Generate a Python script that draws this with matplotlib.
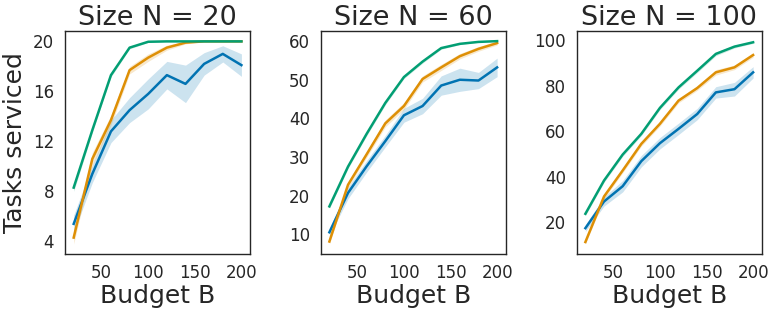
import matplotlib
matplotlib.use("Agg")
import matplotlib.pyplot as plt
import numpy as np

budgets = [20, 40, 60, 80, 100, 120, 140, 160, 180, 200]
sizes = [20, 60, 100]

# N = 20
n20_blue = [5.4, 9.4, 12.8, 14.5, 15.8, 17.3, 16.6, 18.2, 19.0, 18.1]
n20_blue_ci = [0.7, 0.7, 0.9, 1.0, 1.2, 1.1, 1.5, 0.9, 0.65, 0.9]
n20_orange = [4.3, 10.6, 13.7, 17.7, 18.7, 19.5, 19.9, 20.0, 20.0, 20.0]
n20_orange_ci = [0.5, 0.5, 0.4, 0.3, 0.3, 0.2, 0.1, 0.0, 0.0, 0.0]
n20_green = [8.3, 12.9, 17.3, 19.5, 19.97, 20.0, 20.0, 20.0, 20.0, 20.0]
n20_green_ci = [0.3, 0.2, 0.15, 0.1, 0.05, 0.0, 0.0, 0.0, 0.0, 0.0]

# N = 60
n60_blue = [10.5, 20.7, 27.6, 34.1, 40.8, 43.2, 48.5, 50.0, 49.8, 53.2]
n60_blue_ci = [1.0, 1.5, 1.5, 1.5, 1.8, 2.0, 2.5, 3.0, 2.1, 2.4]
n60_orange = [8.1, 22.8, 30.7, 38.7, 43.2, 50.2, 53.2, 56.1, 58.0, 59.5]
n60_orange_ci = [0.6, 0.7, 0.8, 0.9, 0.9, 0.8, 0.8, 0.7, 0.6, 0.5]
n60_green = [17.2, 27.5, 36.0, 44.0, 50.7, 54.7, 58.2, 59.3, 59.8, 60.0]
n60_green_ci = [0.5, 0.5, 0.5, 0.5, 0.4, 0.4, 0.3, 0.2, 0.1, 0.0]

# N = 100
n100_blue = [17.4, 29.1, 35.8, 46.8, 54.7, 61.0, 67.5, 77.0, 78.4, 85.8]
n100_blue_ci = [1.5, 2.0, 2.5, 2.5, 2.5, 2.5, 2.5, 2.5, 3.0, 2.5]
n100_orange = [11.3, 31.3, 42.7, 54.4, 63.2, 73.4, 78.9, 85.8, 88.0, 93.4]
n100_orange_ci = [0.8, 1.0, 1.0, 1.0, 1.0, 1.0, 1.0, 1.2, 1.0, 1.0]
n100_green = [23.7, 38.3, 49.7, 58.8, 70.2, 79.2, 86.5, 93.9, 97.1, 99.0]
n100_green_ci = [0.8, 0.8, 0.8, 0.8, 0.8, 0.8, 0.8, 0.8, 0.6, 0.5]

yticks = [[4, 8, 12, 16, 20], [10, 20, 30, 40, 50, 60], [20, 40, 60, 80, 100]]
xticks = [50, 100, 150, 200]

panels = [
    [(n20_blue, n20_blue_ci), (n20_orange, n20_orange_ci), (n20_green, n20_green_ci)],
    [(n60_blue, n60_blue_ci), (n60_orange, n60_orange_ci), (n60_green, n60_green_ci)],
    [(n100_blue, n100_blue_ci), (n100_orange, n100_orange_ci), (n100_green, n100_green_ci)],
]
colors = ["#0173b2", "#de8f05", "#029e73"]

text_color = "#262626"
plt.rcParams["font.family"] = "DejaVu Sans"

fig = plt.figure(figsize=(7.69, 3.12), dpi=100)
lefts = [65.3 / 769, 321 / 769, 577 / 769]
width = 184.5 / 769
bottom = 1 - 254 / 312
height = (254 - 31) / 312

x = np.array(budgets)
for i, (size, series) in enumerate(zip(sizes, panels)):
    ax = fig.add_axes([lefts[i], bottom, width, height])
    for (mean, ci), c in zip(series, colors):
        m = np.array(mean)
        e = np.array(ci)
        ax.fill_between(x, m - e, m + e, color=c, alpha=0.2, linewidth=0)
        ax.plot(x, m, color=c, lw=1.8)
    ax.set_xticks(xticks)
    ax.set_yticks(yticks[i])
    ax.tick_params(axis="y", length=0, labelsize=12, colors=text_color, pad=8)
    ax.tick_params(axis="x", length=0, labelsize=12, colors=text_color, pad=7)
    ax.set_title(f"Size N = {size}", fontsize=19.5, color=text_color, pad=3)
    ax.set_xlabel("Budget B", fontsize=18, color=text_color, labelpad=2)
    if i == 0:
        ax.set_ylabel("Tasks serviced", fontsize=18, color=text_color, labelpad=4)
    for s in ax.spines.values():
        s.set_color(text_color)
        s.set_linewidth(1.0)

fig.savefig("out.png", dpi=100)
